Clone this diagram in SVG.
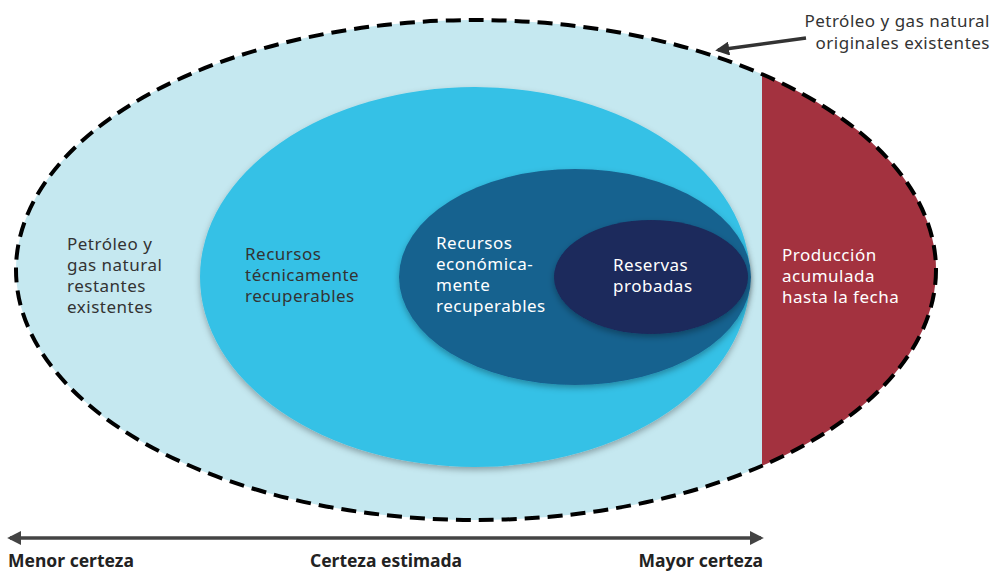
<svg xmlns="http://www.w3.org/2000/svg" width="991" height="573" viewBox="0 0 991 573">
<style>
.lbl{font-family:"Noto Sans","Open Sans",sans-serif;font-size:17px;letter-spacing:0.5px;fill:#333333}
.wht{font-family:"Noto Sans","Open Sans",sans-serif;font-size:17px;letter-spacing:0.5px;fill:#ffffff}
.axis{font-family:"Noto Sans","Open Sans",sans-serif;font-size:17.5px;font-weight:bold;fill:#222222}
</style>
<defs>
<clipPath id="outerClip"><ellipse cx="476" cy="270" rx="460" ry="250"/></clipPath>
<filter id="sh" x="-10%" y="-10%" width="120%" height="125%"><feDropShadow dx="0" dy="3" stdDeviation="3" flood-color="#000" flood-opacity="0.3"/></filter>
<marker id="ah" viewBox="0 0 10 10" refX="8" refY="5" markerWidth="4" markerHeight="4" orient="auto-start-reverse"><path d="M0,0 L10,5 L0,10 z" fill="#444444"/></marker>
<marker id="ah2" viewBox="0 0 10 10" refX="8" refY="5" markerWidth="4" markerHeight="4" orient="auto"><path d="M0,0 L10,5 L0,10 z" fill="#333333"/></marker>
</defs>
<g id="outer">
<ellipse cx="476" cy="270" rx="460" ry="250" fill="#C5E8F0"/>
<rect x="762" y="0" width="240" height="573" fill="#A3323F" clip-path="url(#outerClip)"/>
<ellipse cx="476" cy="270" rx="460" ry="250" fill="none" stroke="#000" stroke-width="4" stroke-dasharray="15 8"/>
<text class="lbl" x="67" y="250">Petróleo y</text>
<text class="lbl" x="67" y="271">gas natural</text>
<text class="lbl" x="67" y="292">restantes</text>
<text class="lbl" x="67" y="313">existentes</text>
</g>
<g id="produccion">
<text class="wht" x="782" y="261">Producción</text>
<text class="wht" x="782" y="282">acumulada</text>
<text class="wht" x="782" y="303">hasta la fecha</text>
</g>
<g id="tecnicos">
<ellipse cx="475" cy="277" rx="275" ry="190" fill="#35C1E6" filter="url(#sh)"/>
<text class="lbl" x="245" y="260">Recursos</text>
<text class="lbl" x="245" y="281">técnicamente</text>
<text class="lbl" x="245" y="302">recuperables</text>
</g>
<g id="economicos">
<ellipse cx="575" cy="277" rx="176" ry="108" fill="#17628F" filter="url(#sh)"/>
<text class="wht" x="436" y="249">Recursos</text>
<text class="wht" x="436" y="270">económica-</text>
<text class="wht" x="436" y="291">mente</text>
<text class="wht" x="436" y="312">recuperables</text>
</g>
<g id="reservas">
<ellipse cx="651" cy="277" rx="97" ry="57" fill="#1B2A5C" filter="url(#sh)"/>
<text class="wht" x="613" y="271">Reservas</text>
<text class="wht" x="613" y="292">probadas</text>
</g>
<g id="callout">
<text class="lbl" x="990" y="27" text-anchor="end">Petróleo y gas natural</text>
<text class="lbl" x="990" y="49" text-anchor="end">originales existentes</text>
</g>
<g id="connectors">
<line x1="806" y1="38" x2="718" y2="50" stroke="#333333" stroke-width="3.5" marker-end="url(#ah2)"/>
<line x1="10" y1="538" x2="761" y2="538" stroke="#444444" stroke-width="3.5" marker-start="url(#ah)" marker-end="url(#ah)"/>
</g>
<g id="axis">
<text class="axis" x="8" y="567">Menor certeza</text>
<text class="axis" x="386" y="567" text-anchor="middle">Certeza estimada</text>
<text class="axis" x="763" y="567" text-anchor="end">Mayor certeza</text>
</g>
</svg>
